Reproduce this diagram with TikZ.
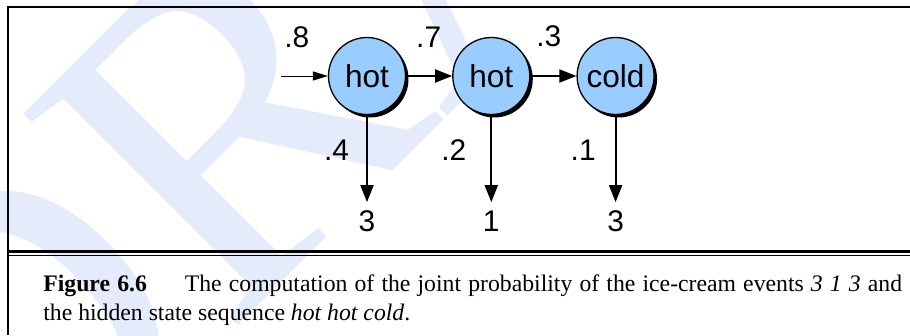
\documentclass[tikz,border=0pt]{standalone}
\usepackage{fontspec}
\setmainfont{Liberation Serif}
\newfontfamily\arialfont{Liberation Sans}
\usetikzlibrary{arrows.meta,positioning,shadows}
\definecolor{stateblue}{HTML}{99CCFF}
\definecolor{draftblue}{RGB}{228,236,252}

\begin{document}
\begin{tikzpicture}[
    x=0.02cm, y=-0.02cm,
    node distance=0.92cm,
    state/.style={circle, draw=black, line width=0.75pt, fill=stateblue, minimum size=1.54cm, inner sep=0pt, font=\arialfont\fontsize{18}{21}\selectfont, drop shadow={shadow xshift=0.06cm, shadow yshift=-0.06cm, opacity=1, fill=black}},
    obs/.style={inner sep=0.16cm, font=\arialfont\fontsize{17}{20}\selectfont},
    prob/.style={inner sep=0pt, font=\arialfont\fontsize{17}{20}\selectfont},
    arrow/.style={-{Triangle[length=0.34cm,width=0.26cm]}, line width=1.1pt},
    thinarrow/.style={-{Triangle[length=0.3cm,width=0.18cm]}, line width=0.55pt}
]
\useasboundingbox (0,0) rectangle (910,335);
% watermark
\begin{scope}
\clip (0,0) rectangle (910,335);
\node[anchor=base west, rotate=45, inner sep=0pt, text=draftblue, font=\fontsize{262}{262}\selectfont] (draft) at (-8,572) {DRAFT};
\end{scope}
% frame
\draw[line width=1.2pt] (8,335) -- (8,7) -- (910,7);
\draw[line width=1.9pt] (8,251.5) -- (910,251.5);
\draw[line width=0.7pt] (8,255.7) -- (910,255.7);
% states
\node[state] (h1) at (367,76) {hot};
\node[state, right=of h1] (h2) {hot};
\node[state, right=of h2] (c3) {cold};
\coordinate[left=0.94cm of h1] (start);
% observations
\node[obs, below=1.74cm of h1] (o1) {3};
\node[obs, below=1.74cm of h2] (o2) {1};
\node[obs, below=1.74cm of c3] (o3) {3};
% transitions
\draw[thinarrow] (start) -- node[prob, pos=0.34, above=0.56cm] {.8} (h1);
\draw[arrow] (h1) -- node[prob, pos=0.49, above=0.56cm] {.7} (h2);
\draw[arrow] (h2) -- node[prob, pos=0.4, above=0.56cm] {.3} (c3);
% emissions
\draw[arrow] (h1) -- node[prob, pos=0.4, left=0.34cm] {.4} (o1);
\draw[arrow] (h2) -- node[prob, pos=0.4, left=0.48cm] {.2} (o2);
\draw[arrow] (c3) -- node[prob, pos=0.4, left=0.38cm] {.1} (o3);
% caption
\node[anchor=north west, inner sep=0pt, text width=17.18cm, align=justify, font=\fontsize{13.5}{16.2}\selectfont] (caption) at (43,274.5) {\textbf{Figure 6.6}\hspace{1.6em}The computation of the joint probability of the ice-cream events \textit{3 1 3} and\linebreak the hidden state sequence \textit{hot hot cold}.};
\end{tikzpicture}
\end{document}
